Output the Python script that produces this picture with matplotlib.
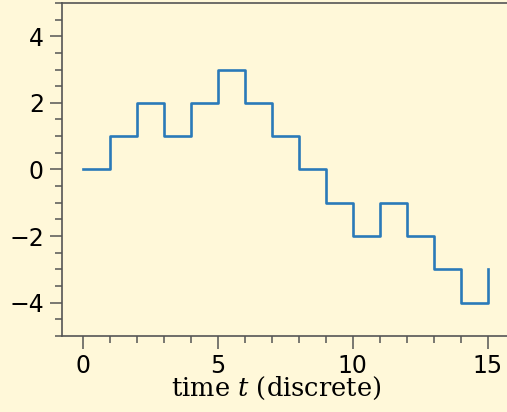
import matplotlib
matplotlib.use("Agg")
import matplotlib.pyplot as plt
from matplotlib.ticker import MultipleLocator

# random walk, one step per time tick
t = list(range(16))
pos = [0, 1, 2, 1, 2, 3, 2, 1, 0, -1, -2, -1, -2, -3, -4, -3]

bg = "#fff8d9"
spine_col = "#555555"
plt.rcParams["mathtext.fontset"] = "dejavuserif"

fig = plt.figure(figsize=(5.07, 4.12), dpi=100, facecolor=bg)
ax = fig.add_axes([0.1223, 0.1845, 0.884, 0.8085], facecolor=bg)

ax.step(t, pos, where="post", color="#2a7ab9", linewidth=1.9)

ax.set_xlim(-0.77, 15.83)
ax.set_ylim(-5, 5)
ax.xaxis.set_major_locator(MultipleLocator(5))
ax.xaxis.set_minor_locator(MultipleLocator(1))
ax.yaxis.set_major_locator(MultipleLocator(2))
ax.yaxis.set_minor_locator(MultipleLocator(0.5))

for s in ax.spines.values():
    s.set_color(spine_col)
    s.set_linewidth(1.2)
ax.spines["right"].set_visible(False)  # falls off the picture edge in the original

ax.tick_params(which="major", length=9, width=1.1, color=spine_col, labelsize=17)
ax.tick_params(axis="x", which="major", pad=4)
ax.tick_params(axis="y", which="major", pad=4)
ax.tick_params(which="minor", length=5, width=1.1, color=spine_col)

ax.set_xlabel("time $t$ (discrete)", fontsize=18.5, family="DejaVu Serif")
ax.xaxis.set_label_coords(0.479, -0.118, transform=ax.transAxes)
ax.xaxis.label.set_va("top")

fig.savefig("out.png", dpi=100, facecolor=bg)
